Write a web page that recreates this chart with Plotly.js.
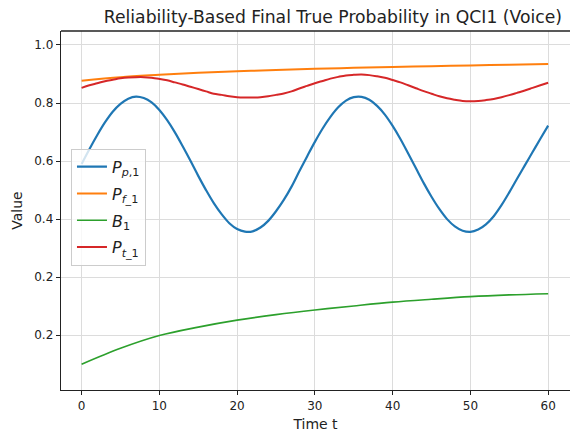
<!DOCTYPE html>
<html>
<head>
<meta charset="utf-8">
<script src="https://cdn.plot.ly/plotly-3.0.1.min.js"></script>
<style>html,body{margin:0;padding:0;background:#fff;}#chart{width:570px;height:432px;}</style>
</head>
<body>
<div id="chart"></div>
<script>
// Time axis (fine, step 1) for the oscillating series
const tFine = [0,1,2,3,4,5,6,7,8,9,10,11,12,13,14,15,16,17,18,19,20,21,22,23,24,25,26,27,28,29,30,31,32,33,34,35,36,37,38,39,40,41,42,43,44,45,46,47,48,49,50,51,52,53,54,55,56,57,58,59,60];
// Time axis (coarse, step 5) for the smooth series
const tCoarse = [0,5,10,15,20,25,30,35,40,45,50,55,60];

// P_{p,1}
const pP1 = [0.590,0.641,0.689,0.733,0.770,0.797,0.815,0.822,0.817,0.802,0.776,0.741,0.699,0.651,0.601,0.549,0.500,0.455,0.417,0.386,0.366,0.357,0.358,0.371,0.394,0.427,0.466,0.512,0.565,0.616,0.666,0.712,0.752,0.785,0.808,0.820,0.821,0.811,0.790,0.760,0.721,0.676,0.626,0.575,0.524,0.477,0.435,0.400,0.375,0.360,0.356,0.364,0.382,0.410,0.448,0.492,0.539,0.585,0.631,0.677,0.722];
// P_{f_1}
const pF1 = [0.877,0.889,0.897,0.904,0.909,0.914,0.918,0.921,0.924,0.927,0.929,0.932,0.934];
// B_1
const b1 = [-0.100,-0.045,-0.001,0.028,0.052,0.071,0.087,0.101,0.114,0.124,0.133,0.139,0.143];
// P_{t_1}
const pT1 = [0.852,0.861,0.868,0.875,0.880,0.885,0.888,0.889,0.889,0.887,0.883,0.878,0.871,0.864,0.856,0.848,0.840,0.832,0.828,0.823,0.820,0.819,0.819,0.820,0.823,0.828,0.833,0.840,0.850,0.859,0.868,0.876,0.884,0.890,0.895,0.897,0.898,0.896,0.892,0.887,0.879,0.871,0.861,0.851,0.841,0.832,0.823,0.816,0.811,0.807,0.806,0.807,0.810,0.814,0.820,0.827,0.835,0.843,0.852,0.861,0.870];

// Tick labels as shown
const yTickVals = [0, 0.2, 0.4, 0.6, 0.8, 1.0];
const yTickText = ["0.2", "0.2", "0.4", "0.6", "0.8", "1.0"];
const xTickVals = [0, 10, 20, 30, 40, 50, 60];

const names = [
  "<i>P</i><sub><i>p</i>,1</sub>",
  "<i>P</i><sub><i>f</i>_1</sub>",
  "<i>B</i><sub>1</sub>",
  "<i>P</i><sub><i>t</i>_1</sub>"
];

const traces = [
  {x: tFine, y: pP1, name: names[0], legendgroup: "g1", mode: "lines", line: {color: "#1f77b4", width: 2.2, shape: "spline"}},
  {x: tCoarse, y: pF1, name: names[1], legendgroup: "g2", mode: "lines", line: {color: "#ff7f0e", width: 2, shape: "spline"}},
  {x: tCoarse, y: b1, name: names[2], legendgroup: "g3", mode: "lines", line: {color: "#2ca02c", width: 1.6, shape: "spline"}},
  {x: tFine, y: pT1, name: names[3], legendgroup: "g4", mode: "lines", line: {color: "#d62728", width: 2, shape: "spline"}}
];

const layout = {
  width: 570, height: 432,
  margin: {l: 61, r: 0, t: 31, b: 42},
  paper_bgcolor: "#fff", plot_bgcolor: "#fff",
  font: {family: "DejaVu Sans, sans-serif", size: 12, color: "#222"},
  title: {text: "Reliability-Based Final True Probability in QCI1 (Voice)", font: {size: 17.2, color: "#222"},
          xref: "container", x: 0.584, xanchor: "center", yref: "container", y: 0.96, yanchor: "middle"},
  showlegend: true,
  legend: {x: 0.0196, y: 0.672, xanchor: "left", yanchor: "top", tracegroupgap: 3,
           bgcolor: "rgba(255,255,255,0.8)", bordercolor: "#cccccc", borderwidth: 1,
           font: {size: 16, color: "#222"}},
  xaxis: {
    range: [-2.65, 62.81], tickvals: xTickVals, ticktext: xTickVals.map(String),
    showgrid: true, gridcolor: "#dcdcdc", gridwidth: 1, zeroline: false,
    showline: true, linecolor: "#222", linewidth: 1.3,
    ticks: "outside", ticklen: 4, tickcolor: "#222", tickwidth: 1,
    tickfont: {size: 12},
    title: {text: "Time t", font: {size: 14}, standoff: 8}
  },
  yaxis: {
    range: [-0.1886, 1.048], tickvals: yTickVals, ticktext: yTickText,
    showgrid: true, gridcolor: "#dcdcdc", gridwidth: 1, zeroline: false,
    showline: true, linecolor: "#222", linewidth: 1.3,
    ticks: "outside", ticklen: 4, tickcolor: "#222", tickwidth: 1,
    tickfont: {size: 12},
    title: {text: "Value", font: {size: 14}, standoff: 8}
  },
  shapes: [{type: "line", xref: "paper", yref: "paper", x0: 0, x1: 1, y0: 1, y1: 1,
            line: {color: "#222", width: 1.3}}]
};

Plotly.newPlot("chart", traces, layout, {displayModeBar: false, staticPlot: true});
</script>
</body>
</html>
